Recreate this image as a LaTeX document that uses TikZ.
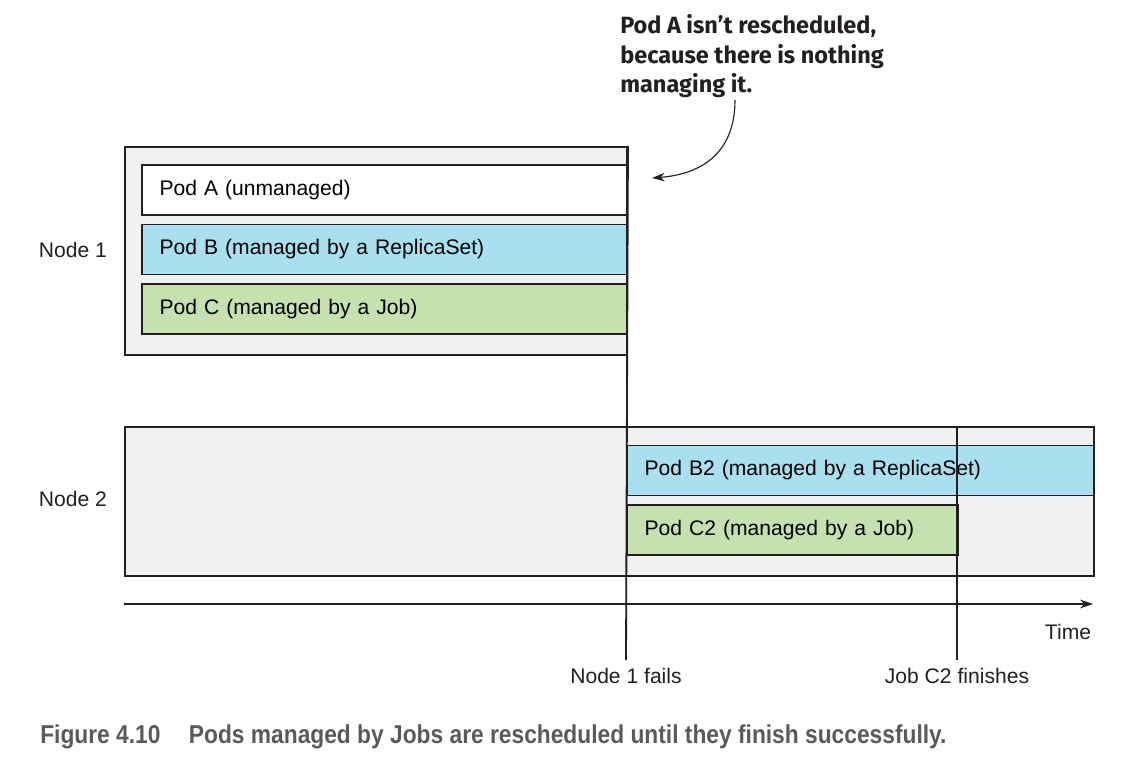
\documentclass[tikz,border=0pt]{standalone}
\usepackage{fontspec}
\setmainfont{Liberation Sans}
\newfontfamily\notefont{Fira Sans}
\newfontfamily\capfont[FakeStretch=0.88]{Liberation Sans}
\usetikzlibrary{positioning,calc,arrows.meta}

\definecolor{hostgray}{HTML}{F1F1F1}
\definecolor{rsblue}{HTML}{A9DFEF}
\definecolor{jobgreen}{HTML}{C5E1B0}
\definecolor{ink}{HTML}{231F20}
\definecolor{capgray}{HTML}{5A5A5A}

\tikzset{
    hostbox/.style={draw=ink,line width=1.3pt,fill=hostgray,anchor=north west,inner sep=0pt},
    podbox/.style={draw=ink,line width=1.3pt,anchor=west,minimum height=1.25cm,
        inner xsep=0.44cm,align=left,font=\fontsize{15}{18}\selectfont},
    plain/.style={font=\fontsize{15}{18}\selectfont,text=ink},
    marker/.style={draw=ink,line width=1.3pt}
}

\begin{document}
\begin{tikzpicture}[x=0.025cm,y=-0.025cm]
    \useasboundingbox (0,0) rectangle (1126,761);

    \node[hostbox,minimum width=12.55cm,minimum height=5.2cm] (node1) at (124,146) {};
    \node[hostbox,minimum width=24.225cm,minimum height=3.725cm] (node2) at (124,426) {};

    \node[podbox,fill=white,text width=11.245cm] (podA) at (141,190) {\strut Pod A (unmanaged)};
    \node[podbox,fill=rsblue,text width=11.245cm] (podB) at (141,249.5) {\strut Pod B (managed by a ReplicaSet)};
    \node[podbox,fill=jobgreen,text width=11.245cm] (podC) at (141,309) {\strut Pod C (managed by a Job)};

    \node[podbox,fill=rsblue,text width=10.795cm] (podB2) at (626,470.5) {\strut Pod B2 (managed by a ReplicaSet)};
    \node[podbox,fill=jobgreen,text width=7.395cm] (podC2) at (626,530) {\strut Pod C2 (managed by a Job)};

    \node[plain] (lbl1) at (73,250) {Node 1};
    \node[plain] (lbl2) at (73,499) {Node 2};

    % time axis
    \coordinate (t0) at (124,604);
    \coordinate (t1) at (1093,604);
    \draw[marker,-{Stealth[length=9pt,width=6pt]}] (t0) -- (t1);
    \node[plain] (time) at (1068,632) {Time};

    % events
    \coordinate (fail) at (626,660);
    \coordinate (donetop) at (957,426);
    \coordinate (done) at (957,660);
    \draw[marker] (node1.north east) -- (fail);
    \draw[marker] (donetop) -- (done);
    \node[plain,below=2pt of fail] (faillbl) {Node 1 fails};
    \node[plain,below=2pt of done] (donelbl) {Job C2 finishes};

    % note
    \node[anchor=north west,align=left,inner sep=0pt,text=ink,
        font=\notefont\bfseries\fontsize{16.7}{21.2}\selectfont] (note) at (620,14)
        {Pod A isn’t rescheduled,\\because there is nothing\\managing it.};
    \coordinate (notetail) at (735,100);
    \coordinate (notetip) at (652,178);
    \draw[line width=0.8pt,ink,-{Stealth[length=9pt,width=6pt]}]
        (notetail) .. controls (735,150) and (705,174) .. (notetip);

    \node[anchor=west,inner sep=0pt,text=capgray,
        font=\capfont\bfseries\fontsize{18.4}{20}\selectfont] (caption) at (40,737)
        {Figure 4.10\hspace{1.1em}Pods managed by Jobs are rescheduled until they finish successfully.};
\end{tikzpicture}
\end{document}
